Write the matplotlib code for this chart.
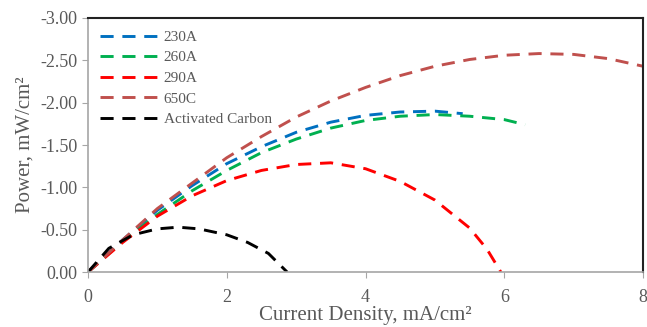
import matplotlib.pyplot as plt
from matplotlib.ticker import FormatStrFormatter

plt.rcParams['font.family'] = ['Liberation Serif', 'DejaVu Serif']

x230 = [0, 0.5, 1, 1.5, 2, 2.5, 3, 3.5, 4, 4.5, 5, 5.4]
y230 = [0, -0.38, -0.73, -1.02, -1.28, -1.48, -1.65, -1.77, -1.85, -1.89, -1.90, -1.87]

x260 = [0, 0.5, 1, 1.5, 2, 2.5, 3, 3.5, 4, 4.5, 5, 5.5, 6, 6.3]
y260 = [0, -0.36, -0.68, -0.96, -1.2, -1.41, -1.57, -1.7, -1.79, -1.84, -1.86, -1.84, -1.8, -1.74]

x290 = [0, 0.5, 1, 1.5, 2, 2.5, 3, 3.5, 4, 4.5, 5, 5.5, 5.75, 5.95]
y290 = [0, -0.35, -0.66, -0.9, -1.08, -1.2, -1.27, -1.29, -1.22, -1.07, -0.85, -0.52, -0.27, 0.0]

x650 = [0, 0.5, 1, 1.5, 2, 2.5, 3, 3.5, 4, 4.5, 5, 5.5, 6, 6.5, 7, 7.5, 8]
y650 = [0, -0.38, -0.75, -1.05, -1.35, -1.6, -1.83, -2.02, -2.18, -2.32, -2.43, -2.51, -2.56, -2.58, -2.57, -2.52, -2.43]

xac = [0, 0.3, 0.65, 1.0, 1.3, 1.6, 2.0, 2.3, 2.6, 2.87]
yac = [0, -0.28, -0.44, -0.51, -0.53, -0.51, -0.44, -0.35, -0.22, 0.0]

series = [
    (x230, y230, '230A', '#0070C0'),
    (x260, y260, '260A', '#00B050'),
    (x290, y290, '290A', '#FF0000'),
    (x650, y650, '650C', '#C0504D'),
    (xac, yac, 'Activated Carbon', '#000000'),
]

fig = plt.figure(figsize=(6.47, 3.27), dpi=100)
ax = fig.add_axes([0.136, 0.168, 0.858, 0.777])

for xs, ys, lab, c in series:
    ax.plot(xs, ys, color=c, lw=2.1, dashes=(4.5, 3), label=lab)

ax.set_xlim(0, 8)
ax.set_ylim(0, -3)
ax.set_xticks([0, 2, 4, 6, 8])
ax.set_yticks([0, -0.5, -1, -1.5, -2, -2.5, -3])
ax.yaxis.set_major_formatter(FormatStrFormatter('%.2f'))

gray = '#595959'
for s in ['left', 'bottom']:
    ax.spines[s].set_color('#A6A6A6')
    ax.spines[s].set_linewidth(1.2)
for s in ['top', 'right']:
    ax.spines[s].set_color('#222222')
    ax.spines[s].set_linewidth(1.5)
ax.tick_params(axis='both', colors='#A6A6A6', labelcolor=gray, labelsize=13, length=4)
ax.tick_params(axis='x', pad=8)

ax.set_xlabel('Current Density, mA/cm²', color=gray, fontsize=15, labelpad=0)
ax.set_ylabel('Power, mW/cm²', color=gray, fontsize=15, labelpad=4)

leg = ax.legend(loc='upper left', frameon=False, fontsize=11, handlelength=4.0,
                labelspacing=0.45, handletextpad=0.15, borderaxespad=0.4)
for t in leg.get_texts():
    t.set_color(gray)

fig.savefig('out.png', dpi=100)
